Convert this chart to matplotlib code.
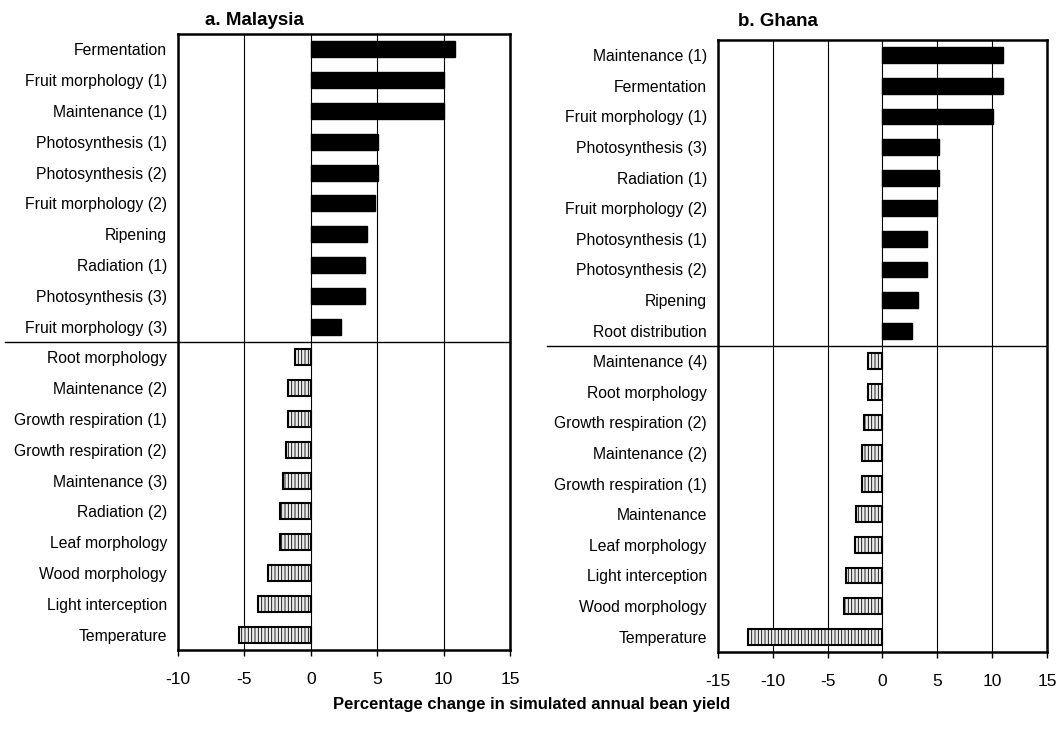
import matplotlib.pyplot as plt
import numpy as np

plt.rcParams['font.family'] = ['Liberation Sans', 'DejaVu Sans']
plt.rcParams['hatch.linewidth'] = 0.6

# a. Malaysia
mal_labels = ["Fermentation", "Fruit morphology (1)", "Maintenance (1)", "Photosynthesis (1)",
              "Photosynthesis (2)", "Fruit morphology (2)", "Ripening", "Radiation (1)",
              "Photosynthesis (3)", "Fruit morphology (3)",
              "Root morphology", "Maintenance (2)", "Growth respiration (1)",
              "Growth respiration (2)", "Maintenance (3)", "Radiation (2)", "Leaf morphology",
              "Wood morphology", "Light interception", "Temperature"]
mal_values = [10.85, 10.0, 10.0, 5.07, 5.03, 4.8, 4.2, 4.1, 4.1, 2.3,
              -1.2, -1.7, -1.7, -1.9, -2.1, -2.3, -2.35, -3.2, -3.95, -5.4]

# b. Ghana
gha_labels = ["Maintenance (1)", "Fermentation", "Fruit morphology (1)", "Photosynthesis (3)",
              "Radiation (1)", "Fruit morphology (2)", "Photosynthesis (1)", "Photosynthesis (2)",
              "Ripening", "Root distribution",
              "Maintenance (4)", "Root morphology", "Growth respiration (2)", "Maintenance (2)",
              "Growth respiration (1)", "Maintenance", "Leaf morphology", "Light interception",
              "Wood morphology", "Temperature"]
gha_values = [11.0, 11.0, 10.1, 5.15, 5.15, 5.0, 4.1, 4.1, 3.2, 2.65,
              -1.3, -1.3, -1.7, -1.83, -1.86, -2.44, -2.47, -3.35, -3.53, -12.3]


def draw_panel(ax, labels, values, xlim, ticks, sep_left):
    y = np.arange(len(labels))
    vals = np.array(values)
    pos = vals > 0
    ax.barh(y[pos], vals[pos], height=0.52, color='black', edgecolor='black', zorder=3)
    ax.barh(y[~pos], vals[~pos], height=0.52, color='#ececec', edgecolor='black',
            hatch='|||||', linewidth=1.5, zorder=3)
    ax.set_xlim(*xlim)
    ax.set_ylim(len(labels) - 0.5, -0.5)
    ax.set_xticks(ticks)
    ax.set_xticklabels([str(t) for t in ticks], fontsize=12.5)
    ax.set_yticks(y)
    ax.set_yticklabels(labels, fontsize=11.3)
    ax.tick_params(axis='y', length=0, pad=8)
    ax.tick_params(axis='x', length=4, width=1, pad=12)
    ax.grid(axis='x', color='black', linewidth=0.8, zorder=0)
    for s in ax.spines.values():
        s.set_linewidth(1.8)
    # separator between positive and negative effects
    ax.plot([sep_left, 1.0], [9.5, 9.5], transform=ax.get_yaxis_transform(),
            color='black', linewidth=1.0, clip_on=False, zorder=4)


fig = plt.figure(figsize=(10.63, 7.31), dpi=100)
ax1 = fig.add_axes([0.1675, 0.1108, 0.3123, 0.8427])
ax2 = fig.add_axes([0.6754, 0.1081, 0.3095, 0.8372])

draw_panel(ax1, mal_labels, mal_values, (-10, 15), [-10, -5, 0, 5, 10, 15], -0.52)
draw_panel(ax2, gha_labels, gha_values, (-15, 15), [-15, -10, -5, 0, 5, 10, 15], -0.52)

fig.text(0.193, 0.972, "a. Malaysia", fontsize=13.5, fontweight='bold', ha='left', va='center')
fig.text(0.694, 0.971, "b. Ghana", fontsize=13.5, fontweight='bold', ha='left', va='center')
fig.text(0.5, 0.036, "Percentage change in simulated annual bean yield", fontsize=12,
         fontweight='bold', ha='center', va='center')

fig.savefig('out.png', dpi=100)
